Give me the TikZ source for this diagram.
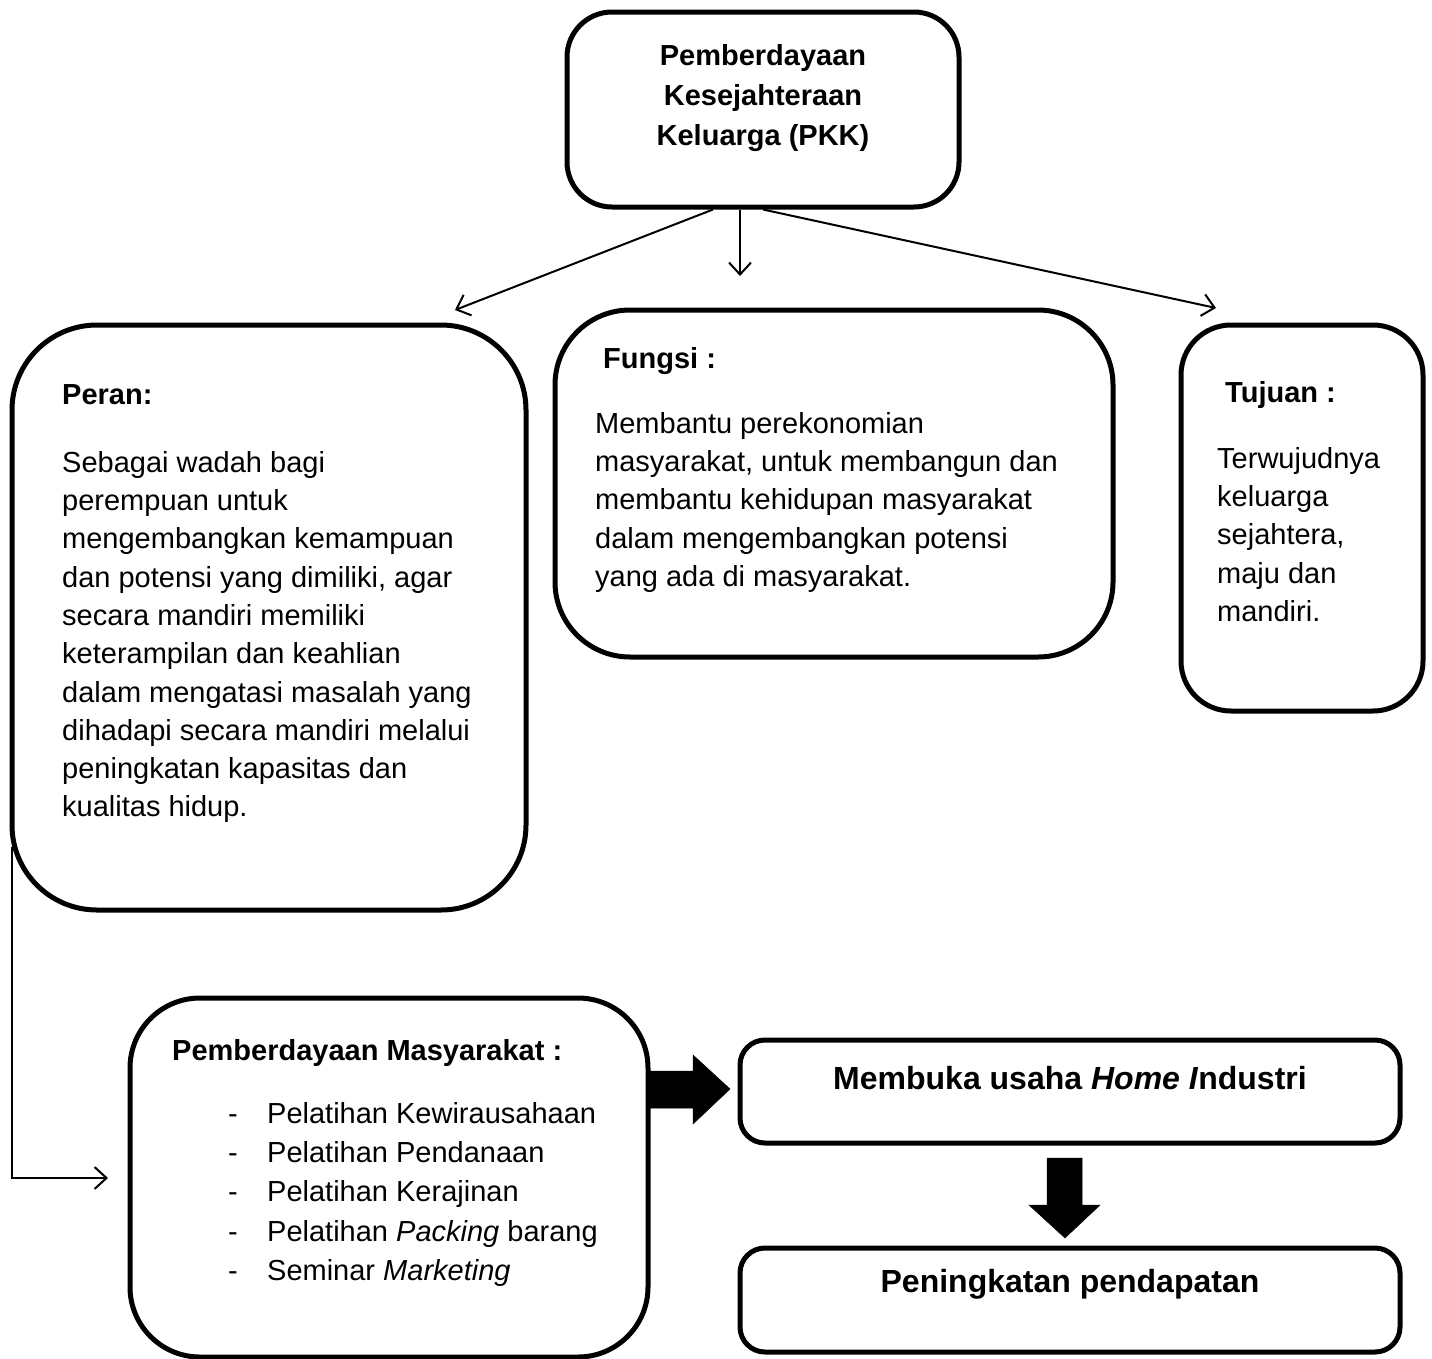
\documentclass[tikz,border=0pt]{standalone}
\usepackage{fontspec}
\setmainfont{Liberation Sans}
\usetikzlibrary{arrows.meta}
\begin{document}
\begin{tikzpicture}[x=1pt,y=-1pt,
  box/.style={draw, line width=5pt, inner sep=0pt},
  txt/.style={inner sep=0pt, align=left, anchor=north west, font=\fontsize{29}{38.3}\selectfont},
  ttl/.style={inner sep=0pt, anchor=north west, font=\fontsize{29}{38}\selectfont\bfseries},
  big/.style={inner sep=0pt, font=\fontsize{32}{38}\selectfont\bfseries},
  conn/.style={line width=2pt, -{Straight Barb[length=12pt,width=22pt,line width=2pt]}},
  blk/.style={fill=black, draw=black, line width=0.5pt}
]
\useasboundingbox (0,0) rectangle (1432,1358);

% boxes
\node[box, minimum width=392pt, minimum height=195pt, rounded corners=45pt] (pkk) at (763,109.5) {};
\node[box, minimum width=514pt, minimum height=585pt, rounded corners=85pt] (peran) at (269,617.5) {};
\node[box, minimum width=558pt, minimum height=347pt, rounded corners=75pt] (fungsi) at (834,483.5) {};
\node[box, minimum width=242pt, minimum height=386pt, rounded corners=50pt] (tujuan) at (1302,518) {};
\node[box, minimum width=518pt, minimum height=359pt, rounded corners=70pt] (pm) at (389,1177.5) {};
\node[box, minimum width=660pt, minimum height=103pt, rounded corners=25pt] (home) at (1070,1091.5) {};
\node[box, minimum width=660pt, minimum height=104pt, rounded corners=25pt] (naik) at (1070,1300) {};

% texts
\node[inner sep=0pt, anchor=north, align=center, font=\fontsize{29}{40}\selectfont\bfseries] (tpkk) at (763,44)
  {Pemberdayaan\\Kesejahteraan\\Keluarga (PKK)};

\node[ttl] (tperan) at (62,384) {Peran:};
\node[txt] (bperan) at (62,451) {Sebagai wadah bagi\\perempuan untuk\\mengembangkan kemampuan\\dan potensi yang dimiliki, agar\\secara mandiri memiliki\\keterampilan dan keahlian\\dalam mengatasi masalah yang\\dihadapi secara mandiri melalui\\peningkatan kapasitas dan\\kualitas hidup.};

\node[ttl] (tfungsi) at (603,347) {Fungsi :};
\node[txt] (bfungsi) at (595,412) {Membantu perekonomian\\masyarakat, untuk membangun dan\\membantu kehidupan masyarakat\\dalam mengembangkan potensi\\yang ada di masyarakat.};

\node[ttl] (ttujuan) at (1225,381) {Tujuan :};
\node[txt] (btujuan) at (1217,447) {Terwujudnya\\keluarga\\sejahtera,\\maju dan\\mandiri.};

\node[ttl] (tpm) at (172,1039) {Pemberdayaan Masyarakat :};
\node[txt, font=\fontsize{29}{39.3}\selectfont] (bpm) at (228,1102)
  {\makebox[39pt][l]{-}Pelatihan Kewirausahaan\\
   \makebox[39pt][l]{-}Pelatihan Pendanaan\\
   \makebox[39pt][l]{-}Pelatihan Kerajinan\\
   \makebox[39pt][l]{-}Pelatihan \textit{Packing} barang\\
   \makebox[39pt][l]{-}Seminar \textit{Marketing}};

\node[big] (thome) at (1070,1078) {Membuka usaha \textit{Home I}ndustri};
\node[big] (tnaik) at (1070,1284) {Peningkatan pendapatan};

% connectors
\coordinate (e1) at (455,310);
\coordinate (e2) at (740,276);
\coordinate (e3) at (1216,308);
\draw[conn] ([xshift=-50pt]pkk.south) -- (e1);
\draw[conn] ([xshift=-23pt]pkk.south) -- (e2);
\draw[conn] ([xshift=0pt]pkk.south) -- (e3);

\coordinate (s4) at (12,847);
\coordinate (e4) at (108,1178);
\draw[conn] (s4) |- (e4);

% block arrows
\fill[blk] (650,1071) -- (693,1071) -- (693,1055) -- (730,1089) -- (693,1124) -- (693,1108) -- (650,1108) -- cycle;
\fill[blk] (1047,1158) -- (1082,1158) -- (1082,1205) -- (1100,1205) -- (1065,1238) -- (1029,1205) -- (1047,1205) -- cycle;
\end{tikzpicture}
\end{document}
